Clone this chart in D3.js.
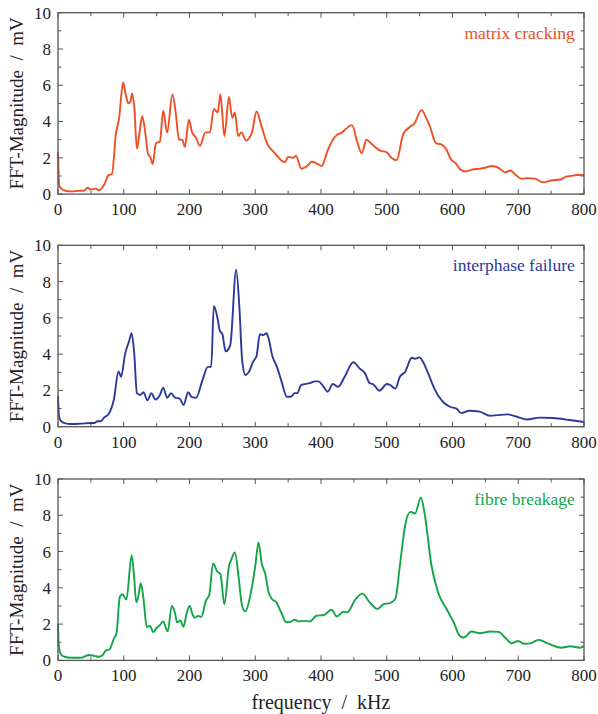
<!DOCTYPE html>
<html>
<head>
<meta charset="utf-8">
<script src="https://cdn.jsdelivr.net/npm/d3@7"></script>
<style>
  body { margin: 0; background: #fff; }
  svg text { font-family: "Liberation Serif", "Times New Roman", Times, serif; white-space: pre; }
</style>
</head>
<body>
<div id="container"></div>
<script>
/* CONSTANTS AND GLOBALS */
const width = 598,
  height = 714,
  margin = { left: 58, right: 14 };

const panelTops = [12.7, 245.3, 479],
  panelHeight = 181.4;

// x ticks and y ticks
const xTicks = [0, 100, 200, 300, 400, 500, 600, 700, 800];
const yTicks = [0, 2, 4, 6, 8, 10];

const seriesNames = ["matrix cracking", "interphase failure", "fibre breakage"];
const seriesColors = ["#f04e23", "#2b3a98", "#13a548"];

// matrix cracking [kHz, mV]
const matrixCracking = [
  [0, 2.3], [1, 1.0], [2, 0.45], [5, 0.3], [10, 0.2], [20, 0.15], [30, 0.18], [40, 0.2], [45, 0.35],
  [50, 0.25], [57, 0.3], [62, 0.22], [70, 0.5], [77, 1.05], [82, 1.1], [88, 3.3], [93, 4.2],
  [99, 6.15], [103, 5.5], [107, 5.0], [110, 5.1], [113, 5.55], [116, 4.8], [120, 2.5], [124, 3.4],
  [128, 4.3], [132, 3.6], [137, 2.2], [141, 2.0], [144, 1.65], [149, 2.8], [155, 2.9], [160, 4.6],
  [166, 3.4], [174, 5.5], [179, 4.5], [184, 3.0], [189, 3.0], [193, 2.6], [199, 4.1], [204, 3.4],
  [210, 3.1], [216, 2.65], [224, 3.4], [231, 3.4], [237, 4.7], [243, 4.5], [247, 5.5], [253, 3.2],
  [260, 5.35], [265, 4.2], [269, 4.5], [274, 3.2], [279, 3.4], [286, 2.95], [295, 3.4], [302, 4.55],
  [309, 3.8], [318, 2.8], [330, 2.25], [345, 1.75], [350, 2.05], [357, 2.0], [362, 2.1], [370, 1.4],
  [379, 1.55], [386, 1.78], [393, 1.7], [401, 1.55], [410, 2.4], [418, 3.0], [424, 3.25], [432, 3.4],
  [438, 3.6], [447, 3.8], [455, 2.9], [462, 2.25], [469, 3.0], [476, 2.8], [482, 2.6], [490, 2.4],
  [500, 2.3], [507, 2.0], [515, 1.87], [525, 3.3], [535, 3.7], [542, 3.9], [553, 4.63], [560, 4.2],
  [566, 3.7], [575, 2.8], [582, 2.75], [590, 2.5], [598, 1.9], [605, 1.7], [612, 1.35], [620, 1.25],
  [630, 1.35], [640, 1.4], [650, 1.45], [660, 1.55], [670, 1.45], [680, 1.2], [688, 1.3], [695, 1.1],
  [705, 0.85], [715, 0.88], [725, 0.85], [738, 0.65], [750, 0.75], [765, 0.82], [772, 0.95],
  [780, 1.0], [790, 1.05], [800, 1.05]
];

// interphase failure [kHz, mV]
const interphaseFailure = [
  [0, 1.7], [1, 0.8], [2, 0.5], [5, 0.3], [10, 0.2], [20, 0.15], [35, 0.17], [50, 0.2], [55, 0.2],
  [60, 0.3], [65, 0.3], [70, 0.5], [77, 0.7], [85, 1.5], [92, 3.05], [96, 2.75], [102, 4.0],
  [108, 4.7], [112, 5.15], [116, 4.0], [120, 1.85], [125, 1.75], [130, 1.9], [136, 1.45], [142, 1.85],
  [148, 1.5], [155, 1.75], [160, 2.15], [166, 1.6], [172, 1.85], [178, 1.6], [185, 1.55], [191, 1.2],
  [198, 1.9], [203, 1.65], [210, 1.6], [220, 2.6], [228, 3.3], [233, 3.3], [237, 6.65], [243, 5.9],
  [246, 5.3], [250, 5.1], [255, 4.15], [262, 4.5], [271, 8.65], [276, 6.5], [280, 3.7], [285, 2.85],
  [290, 3.0], [297, 3.6], [302, 3.9], [307, 5.1], [312, 5.05], [317, 5.15], [320, 4.9], [326, 3.9],
  [333, 3.3], [340, 2.5], [348, 1.65], [354, 1.65], [360, 1.85], [364, 1.85], [370, 2.3], [383, 2.4],
  [391, 2.5], [396, 2.5], [404, 2.2], [410, 1.93], [418, 2.35], [426, 2.2], [436, 2.75], [449, 3.55],
  [459, 3.2], [467, 2.94], [474, 2.4], [479, 2.35], [489, 1.98], [500, 2.35], [505, 2.3], [513, 2.1],
  [520, 2.75], [528, 3.03], [538, 3.8], [543, 3.75], [550, 3.82], [555, 3.58], [563, 2.94],
  [573, 2.06], [587, 1.32], [596, 1.1], [606, 1.0], [613, 0.75], [626, 0.88], [641, 0.83],
  [657, 0.6], [669, 0.64], [684, 0.68], [698, 0.55], [713, 0.4], [733, 0.5], [753, 0.48],
  [778, 0.37], [800, 0.26]
];

// fibre breakage [kHz, mV]
const fibreBreakage = [
  [0, 2.0], [1, 0.9], [2, 0.6], [5, 0.3], [10, 0.2], [20, 0.15], [35, 0.15], [40, 0.2], [47, 0.3],
  [55, 0.25], [62, 0.2], [68, 0.3], [73, 0.55], [78, 0.6], [85, 1.2], [89, 1.5], [94, 3.5],
  [98, 3.65], [104, 3.35], [112, 5.8], [116, 4.5], [119, 3.2], [122, 3.5], [126, 4.25], [130, 3.4],
  [135, 1.85], [140, 1.9], [145, 1.55], [150, 1.8], [155, 1.95], [160, 2.15], [164, 1.8], [167, 1.6],
  [173, 3.0], [178, 2.6], [181, 2.1], [186, 2.2], [191, 1.85], [195, 2.5], [200, 3.0], [205, 2.5],
  [208, 2.35], [213, 2.45], [218, 2.4], [225, 3.3], [230, 3.6], [236, 5.35], [242, 4.9], [247, 4.75],
  [253, 3.1], [260, 5.2], [264, 5.6], [269, 5.95], [275, 4.5], [280, 3.0], [285, 2.7], [292, 3.5],
  [300, 5.2], [305, 6.5], [310, 5.3], [315, 4.8], [320, 3.8], [325, 3.4], [332, 3.2], [340, 2.6],
  [347, 2.1], [354, 2.13], [360, 2.24], [366, 2.15], [375, 2.18], [383, 2.15], [393, 2.46],
  [404, 2.5], [416, 2.79], [424, 2.42], [434, 2.68], [440, 2.65], [452, 3.35], [463, 3.68],
  [474, 3.2], [486, 2.83], [495, 3.1], [505, 3.16], [513, 3.38], [520, 5.23], [528, 7.45],
  [536, 8.19], [543, 8.1], [552, 8.98], [558, 8.0], [568, 5.23], [578, 3.75], [591, 2.83],
  [602, 2.09], [611, 1.35], [617, 1.26], [629, 1.59], [642, 1.5], [657, 1.59], [670, 1.57],
  [680, 1.26], [690, 0.94], [700, 1.07], [708, 0.92], [718, 0.94], [731, 1.13], [746, 0.92],
  [765, 0.7], [779, 0.78], [794, 0.7], [800, 0.8]
];

const allSeries = [matrixCracking, interphaseFailure, fibreBreakage];

/* SVG */
const svg = d3.select("#container").append("svg")
  .attr("width", width)
  .attr("height", height);

const xScale = d3.scaleLinear()
  .domain([0, 800])
  .range([margin.left, width - margin.right]);

const frameColor = "#555";
const serif = "'Liberation Serif', 'Times New Roman', Times, serif";

allSeries.forEach((data, i) => {
  const top = panelTops[i],
    bottom = top + panelHeight;

  const yScale = d3.scaleLinear()
    .domain([0, 10])
    .range([bottom, top]);

  const g = svg.append("g").attr("font-family", serif);

  // ticks (x every 50, y every 1), inward on all four sides
  const xMinor = d3.range(0, 801, 50);
  const yMinor = d3.range(0, 11, 1);

  g.selectAll(".xtb").data(xMinor).join("line")
    .attr("x1", d => xScale(d)).attr("x2", d => xScale(d))
    .attr("y1", bottom).attr("y2", d => bottom - (d % 100 === 0 ? 5 : 3.5))
    .attr("stroke", frameColor).attr("stroke-width", 1);
  g.selectAll(".xtt").data(xMinor).join("line")
    .attr("x1", d => xScale(d)).attr("x2", d => xScale(d))
    .attr("y1", top).attr("y2", d => top + (d % 100 === 0 ? 5 : 3.5))
    .attr("stroke", frameColor).attr("stroke-width", 1);
  g.selectAll(".ytl").data(yMinor).join("line")
    .attr("y1", d => yScale(d)).attr("y2", d => yScale(d))
    .attr("x1", margin.left).attr("x2", d => margin.left + (d % 2 === 0 ? 5 : 3.5))
    .attr("stroke", frameColor).attr("stroke-width", 1);
  g.selectAll(".ytr").data(yMinor).join("line")
    .attr("y1", d => yScale(d)).attr("y2", d => yScale(d))
    .attr("x1", width - margin.right).attr("x2", d => width - margin.right - (d % 2 === 0 ? 5 : 3.5))
    .attr("stroke", frameColor).attr("stroke-width", 1);

  // tick labels
  g.selectAll(".xl").data(xTicks).join("text")
    .attr("x", d => xScale(d))
    .attr("y", bottom + 21)
    .attr("text-anchor", "middle")
    .attr("font-size", 17)
    .attr("fill", "#222")
    .text(d => d);

  g.selectAll(".yl").data(yTicks).join("text")
    .attr("x", margin.left - 7)
    .attr("y", d => yScale(d))
    .attr("dy", "0.35em")
    .attr("text-anchor", "end")
    .attr("font-size", 17)
    .attr("fill", "#222")
    .text(d => d);

  // curve
  const line = d3.line()
    .x(d => xScale(d[0]))
    .y(d => yScale(d[1]))
    .curve(d3.curveMonotoneX);

  g.append("path")
    .datum(data)
    .attr("d", line)
    .attr("fill", "none")
    .attr("stroke", seriesColors[i])
    .attr("stroke-width", 1.9)
    .attr("stroke-linejoin", "round");

  // frame
  g.append("rect")
    .attr("x", margin.left).attr("y", top)
    .attr("width", width - margin.right - margin.left)
    .attr("height", panelHeight)
    .attr("fill", "none")
    .attr("stroke", frameColor)
    .attr("stroke-width", 1.3);

  // legend label
  g.append("text")
    .attr("x", xScale(786))
    .attr("y", top + 26)
    .attr("text-anchor", "end")
    .attr("font-size", 17.5)
    .attr("fill", seriesColors[i])
    .text(seriesNames[i]);

  // y label
  g.append("text")
    .attr("transform", `translate(23, ${(top + bottom) / 2}) rotate(-90)`)
    .attr("text-anchor", "middle")
    .attr("font-size", 19)
    .attr("fill", "#222")
    .text("FFT-Magnitude  /  mV");
});

svg.append("text")
  .attr("font-family", serif)
  .attr("x", xScale(400))
  .attr("y", 709)
  .attr("text-anchor", "middle")
  .attr("font-size", 20)
  .attr("fill", "#222")
  .text("frequency  /  kHz");
</script>
</body>
</html>
